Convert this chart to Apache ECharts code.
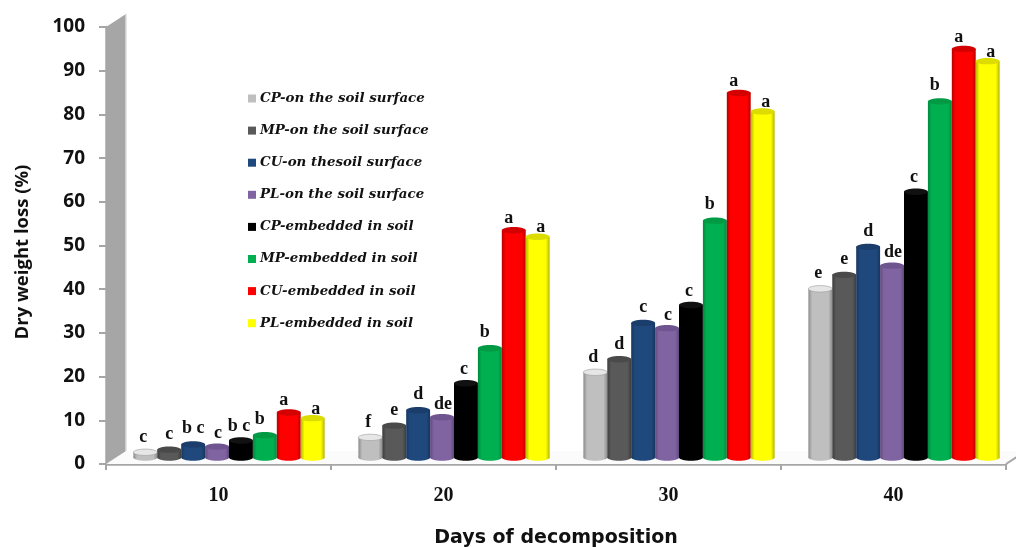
<!DOCTYPE html>
<html>
<head>
<meta charset="utf-8">
<style>html,body{margin:0;padding:0;background:#fff}#c{width:1016px;height:547px}</style>
<script src="https://cdn.jsdelivr.net/npm/echarts@6/dist/echarts.min.js"></script>
</head>
<body>
<div id="c"></div>
<script>
const categories = ['10', '20', '30', '40'];
const names = ['CP-on the soil surface', 'MP-on the soil surface', 'CU-on thesoil surface', 'PL-on the soil surface',
  'CP-embedded in soil', 'MP-embedded in soil', 'CU-embedded in soil', 'PL-embedded in soil'];
const cpSurface = [1.2, 4.6, 19.5, 38.6];
const mpSurface = [1.8, 7.3, 22.5, 41.8];
const cuSurface = [3.0, 10.8, 30.8, 48.2];
const plSurface = [2.5, 9.2, 29.6, 43.9];
const cpEmbedded = [3.9, 17.0, 34.9, 60.8];
const mpEmbedded = [5.1, 25.0, 54.2, 81.5];
const cuEmbedded = [10.3, 52.0, 83.4, 93.5];
const plEmbedded = [9.0, 50.5, 79.2, 90.7];
const lettersCpSurface = ['c', 'f', 'd', 'e'];
const lettersMpSurface = ['c', 'e', 'd', 'e'];
const lettersCuSurface = ['b c', 'd', 'c', 'd'];
const lettersPlSurface = ['c', 'de', 'c', 'de'];
const lettersCpEmbedded = ['b c', 'c', 'c', 'c'];
const lettersMpEmbedded = ['b', 'b', 'b', 'b'];
const lettersCuEmbedded = ['a', 'a', 'a', 'a'];
const lettersPlEmbedded = ['a', 'a', 'a', 'a'];

const values = [cpSurface, mpSurface, cuSurface, plSurface, cpEmbedded, mpEmbedded, cuEmbedded, plEmbedded];
const letters = [lettersCpSurface, lettersMpSurface, lettersCuSurface, lettersPlSurface,
  lettersCpEmbedded, lettersMpEmbedded, lettersCuEmbedded, lettersPlEmbedded];
const colors = ['#bfbfbf', '#595959', '#1f497d', '#8064a2', '#000000', '#00b050', '#ff0000', '#ffff00'];
const edges = ['#8c8c8c', '#3d3d3d', '#173660', '#5f4a7c', '#000000', '#008a3e', '#b80000', '#b5b500'];
const caps = ['#e6e6e6', '#4a4a4a', '#1a3d6b', '#6f5590', '#111111', '#009a45', '#d40000', '#dcdc00'];
const labelGap = [15, 15, 16, 13, 14, 16, 12, 9];
const labelShift = [-2, 0, 0, 1, -2, -5, -5, 3];

const DX = 10.5, DY = -6.5, RY = 3.2;
const DEPTH_X = 20, DEPTH_Y = -13;

function barRenderer(si) {
  return function (params, api) {
    const catW = api.size([1, 0])[0];
    const w = catW * 0.85 / 8;
    const c = api.coord([api.value(0), api.value(1)]);
    const b = api.coord([api.value(0), 0]);
    const x = c[0] + DX + (si - 3.5) * w;
    const top = c[1] + DY, bot = b[1] + DY;
    const rx = w / 2;
    const fill = {
      type: 'linear', x: 0, y: 0, x2: 1, y2: 0,
      colorStops: [
        { offset: 0, color: edges[si] }, { offset: 0.16, color: colors[si] },
        { offset: 0.84, color: colors[si] }, { offset: 1, color: edges[si] }
      ]
    };
    return {
      type: 'group',
      children: [
        { type: 'ellipse', shape: { cx: x, cy: bot, rx: rx, ry: RY }, style: { fill: fill } },
        { type: 'rect', shape: { x: x - rx, y: top, width: w, height: bot - top }, style: { fill: fill } },
        { type: 'ellipse', shape: { cx: x, cy: top, rx: rx, ry: RY }, style: { fill: caps[si], stroke: si === 0 ? '#9a9a9a' : null, lineWidth: 0.6 } },
        {
          type: 'text', z2: 10,
          style: {
            text: api.value(2), x: x + labelShift[si], y: top - labelGap[si], align: 'center', verticalAlign: 'middle',
            font: 'bold 18px "Liberation Serif"', fill: '#111'
          }
        }
      ]
    };
  };
}

const wall = {
  type: 'custom', silent: true, z: 1, clip: false, data: [[0]], legendHoverLink: false,
  renderItem: function (params, api) {
    const t = api.coord([0, 100]), o = api.coord([0, 0]);
    const catW = api.size([1, 0])[0];
    const x0 = o[0] - catW / 2, xEnd = x0 + catW * categories.length;
    return {
      type: 'group',
      children: [
        { type: 'polygon', shape: { points: [[x0, o[1]], [xEnd, o[1]], [xEnd + DEPTH_X, o[1] + DEPTH_Y], [x0 + DEPTH_X, o[1] + DEPTH_Y]] }, style: { fill: '#fbfbfb' } },
        { type: 'polygon', shape: { points: [[x0, t[1]], [x0 + DEPTH_X, t[1] + DEPTH_Y], [x0 + DEPTH_X, o[1] + DEPTH_Y], [x0, o[1]]] }, style: { fill: '#a6a6a6' } },
        { type: 'line', shape: { x1: x0 + DEPTH_X, y1: t[1] + DEPTH_Y, x2: x0 + DEPTH_X, y2: o[1] + DEPTH_Y }, style: { stroke: '#dcdcdc', lineWidth: 1.5 } },
        { type: 'line', shape: { x1: xEnd, y1: o[1], x2: xEnd + DEPTH_X, y2: o[1] + DEPTH_Y }, style: { stroke: '#a6a6a6', lineWidth: 2 } }
      ]
    };
  }
};

const barSeries = names.map(function (name, si) {
  return {
    name: name, type: 'custom', z: 3, clip: false,
    itemStyle: { color: colors[si] },
    encode: { x: 0, y: 1 },
    renderItem: barRenderer(si),
    data: categories.map(function (_, ci) { return [ci, values[si][ci], letters[si][ci]]; })
  };
});

const chart = echarts.init(document.getElementById('c'), null, { renderer: 'canvas' });
chart.setOption({
  animation: false,
  backgroundColor: '#fff',
  grid: { left: 106, right: 10, top: 27, bottom: 83, outerBoundsMode: 'none' },
  legend: {
    orient: 'vertical', left: 243, top: 87, itemWidth: 8, itemHeight: 8, itemGap: 19.1,
    icon: 'rect', data: names, selectedMode: false,
    textStyle: { fontFamily: 'DejaVu Serif', fontStyle: 'italic', fontWeight: 'bold', fontSize: 13.4, color: '#111', padding: [0, 0, 0, -1] }
  },
  xAxis: {
    type: 'category', data: categories, boundaryGap: true,
    axisLine: { onZero: false, lineStyle: { color: '#a6a6a6', width: 2.5 } },
    axisTick: { show: true, length: 6, alignWithLabel: false, lineStyle: { color: '#a6a6a6', width: 2 } },
    axisLabel: { margin: 22, fontFamily: 'Liberation Serif', fontWeight: 'bold', fontSize: 20, color: '#111' },
    name: 'Days of decomposition', nameLocation: 'middle', nameGap: 65,
    nameTextStyle: { fontFamily: 'DejaVu Sans', fontWeight: 'bold', fontSize: 19, color: '#111' }
  },
  yAxis: {
    type: 'value', min: 0, max: 100, interval: 10,
    splitLine: { show: false },
    axisLine: { show: true, lineStyle: { color: '#a6a6a6', width: 2.5 } },
    axisTick: { show: true, length: 7, lineStyle: { color: '#a6a6a6', width: 2 } },
    axisLabel: { margin: 21, fontFamily: 'Open Sans', fontWeight: 'bold', fontSize: 19, color: '#111' },
    name: 'Dry weight loss (%)', nameLocation: 'middle', nameGap: 74, nameRotate: 90,
    nameTextStyle: { fontFamily: 'Open Sans', fontWeight: 'bold', fontSize: 18.5, color: '#111', padding: [0, 13, 0, 0] }
  },
  series: [wall].concat(barSeries)
});
</script>
</body>
</html>
